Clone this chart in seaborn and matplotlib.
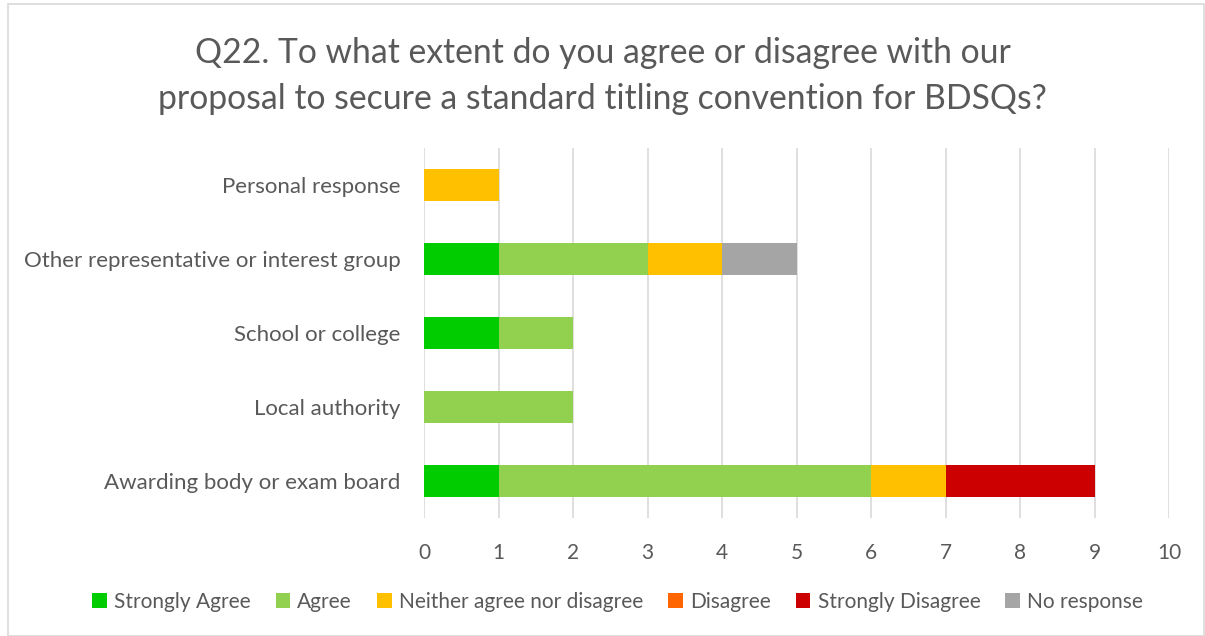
import matplotlib
matplotlib.use("Agg")
import matplotlib.pyplot as plt
import seaborn as sns
import pandas as pd
import numpy as np
from matplotlib.patches import Patch, Rectangle

categories = ["Personal response", "Other representative or interest group",
              "School or college", "Local authority", "Awarding body or exam board"]
series_names = ["Strongly Agree", "Agree", "Neither agree nor disagree",
                "Disagree", "Strongly Disagree", "No response"]
strongly_agree = [0, 1, 1, 0, 1]
agree = [0, 2, 1, 2, 5]
neither = [1, 1, 0, 0, 1]
disagree = [0, 0, 0, 0, 0]
strongly_disagree = [0, 0, 0, 0, 2]
no_response = [0, 1, 0, 0, 0]
colors = ["#00CC00", "#92D050", "#FFC000", "#FF6600", "#CC0000", "#A5A5A5"]
title = "Q22. To what extent do you agree or disagree with our\nproposal to secure a standard titling convention for BDSQs?"

sns.set_theme(style="white")
plt.rcParams["font.family"] = ["Lato", "DejaVu Sans"]
text_color = "#595959"

series = [strongly_agree, agree, neither, disagree, strongly_disagree, no_response]
cum = np.cumsum(np.array(series), axis=0)

fig = plt.figure(figsize=(12.05, 6.36), dpi=100)
ax = fig.add_axes([424/1205, 1 - 518/636, (1169-424)/1205, 370/636])

for i in range(len(series) - 1, -1, -1):
    df = pd.DataFrame({"category": categories, "value": cum[i]})
    sns.barplot(data=df, x="value", y="category", order=categories,
                color=colors[i], saturation=1, width=0.42, ax=ax,
                edgecolor="none", linewidth=0)

ax.set_xlim(0, 10)
ax.set_xticks(range(0, 11))
ax.set_xlabel("")
ax.set_ylabel("")
ax.grid(axis="x", color="#D9D9D9", linewidth=1.2)
ax.set_axisbelow(True)
for s in ax.spines.values():
    s.set_visible(False)
ax.tick_params(axis="x", length=0, pad=18, labelsize=15, labelcolor=text_color)
ax.tick_params(axis="y", length=0, pad=17, labelsize=16, labelcolor=text_color)

fig.text(0.5, 1 - 76/636, title, ha="center", va="center", fontsize=24.3,
         color=text_color, linespacing=1.55)

handles = [Patch(facecolor=c, edgecolor="none", label=n) for c, n in zip(colors, series_names)]
fig.legend(handles=handles, loc="center", bbox_to_anchor=(0.5125, 1 - 602/636),
           ncol=6, frameon=False, fontsize=15, handlelength=0.7, handleheight=0.7,
           handletextpad=0.35, columnspacing=1.2, labelcolor=text_color)

fig.patches.append(Rectangle((8/1205, 0.0), 1 - 8/1205 - 0.001, 1 - 4/636,
                             transform=fig.transFigure, fill=False,
                             edgecolor="#D9D9D9", linewidth=1.2))

fig.savefig("out.png", dpi=100)
